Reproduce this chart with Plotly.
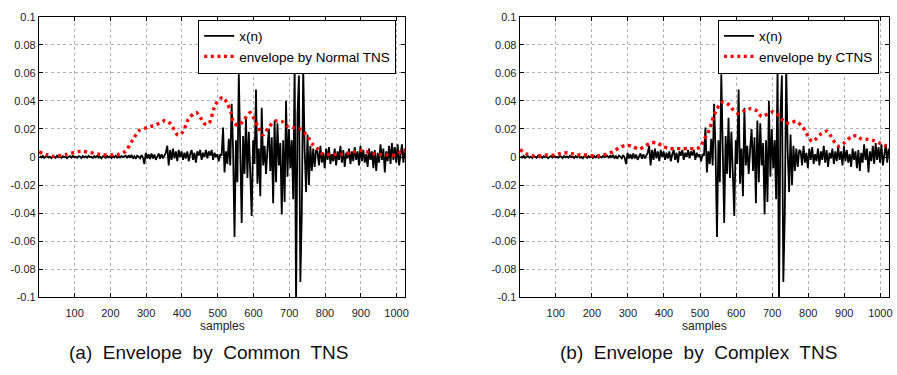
import plotly.graph_objects as go

# ---------------- data ----------------
# x(n): signal, every 4th sample, in four segments
seg_a_start = 3
sig_a = [0.0005, -0.0003, 0.0008, -0.0006, 0.0002, 0.0007, -0.0004, 0.0003, -0.0008, 0.0005,
         0.0001, -0.0005, 0.0009, -0.0002, 0.0004, -0.0007, 0.0006, -0.0001, 0.0003, -0.0009,
         0.0002, 0.0006, -0.0004, 0.0008, -0.0003, 0.0001, -0.0006, 0.0005, 0.0003, -0.0008,
         0.0007, -0.0002, 0.0004, -0.0005, 0.0009, -0.0001, 0.0002, -0.0007, 0.0006, -0.0003,
         0.0008, -0.0004, 0.0001, -0.0009, 0.0005, 0.0003, -0.0006, 0.0007, -0.0002, 0.0004,
         -0.0008, 0.0006, -0.0003, 0.0009, -0.0005, 0.0002, -0.0004, 0.0007, -0.0001, 0.0005]
seg_b_start = 243
sig_b = [0.001, -0.0008, 0.0012, -0.0005, 0.0015, -0.001, 0.0006, -0.0012, 0.001, 0.0003,
         -0.0009, 0.0014, -0.0004,
         -0.005, 0.003, -0.001, 0.002, -0.0015, 0.0025, -0.001, 0.0018, -0.002, 0.001,
         0.0025, -0.0012, 0.002, -0.001, 0.0015,
         0.003, 0.008, -0.006, 0.005, -0.002, 0.006, -0.001, 0.004, -0.003, 0.005,
         0.0, 0.004, -0.002, 0.003, -0.001, 0.004, -0.003, 0.002, 0.005, -0.002,
         0.003, -0.004, 0.004, 0.001, 0.005, -0.002, 0.003, 0.0, 0.005, -0.001,
         0.004, 0.001, 0.005, -0.002, 0.003, 0.0, 0.002, -0.003, 0.002]
seg_c_start = 511
sig_c = [0.001, 0.021, -0.011, 0.004, -0.005, 0.013, -0.006, 0.038, 0.005, -0.057,
         0.012, -0.018, 0.059, 0.008, -0.047, 0.015, -0.012, 0.028, -0.015, 0.018,
         -0.008, -0.042, 0.012, -0.005, 0.048, -0.019, 0.006, -0.028, 0.035, -0.006,
         0.008, -0.012, 0.006, 0.02, -0.01, 0.014, -0.033, 0.026, -0.018, 0.024,
         -0.006, 0.01, -0.041, 0.012, -0.032, 0.04, -0.014, 0.02, -0.008, 0.012,
         -0.03, 0.066, -0.105, 0.03, 0.058, -0.089, -0.041, 0.064, 0.005, -0.025,
         0.016, -0.02, 0.008, -0.01, 0.006, -0.007, 0.005]
seg_d_start = 779
sig_d = [0.004, -0.006, 0.008, -0.004, 0.003, -0.008, 0.006, -0.002, 0.007, -0.005,
         0.002, -0.003, 0.006, -0.006, 0.004, -0.002, 0.008, -0.004, 0.005, -0.007,
         0.003, -0.001, 0.006, -0.005, 0.004, -0.003, 0.007, -0.002, 0.004, -0.006,
         0.008, -0.003, 0.005, -0.004, 0.002, -0.007, 0.006, -0.002, 0.004, -0.008,
         0.005, -0.01, 0.003, -0.004, 0.009, -0.002, 0.006, -0.011, 0.004, -0.003,
         0.008, -0.005, 0.01, -0.002, 0.007, -0.004, 0.009, -0.006, 0.003, 0.009,
         -0.004, 0.006]

# envelope by Normal TNS (left) : sample positions and values
env_normal_n = [1, 40, 77, 114, 125, 170, 206, 225, 242, 262, 281, 304, 336, 353, 368, 389,
                403, 418, 440, 452, 463, 475, 494, 514, 526, 537, 544, 558, 572, 591, 600,
                614, 626, 642, 660, 679, 694, 711, 730, 744, 755, 765, 779, 792, 827, 846,
                882, 901, 938, 975, 998, 1012, 1024]
env_normal_v = [0.0037, 0.0005, 0.0019, 0.004, 0.004, 0.002, 0.0014, 0.002, 0.004, 0.012,
                0.019, 0.021, 0.024, 0.026, 0.0237, 0.0156, 0.018, 0.027, 0.0317, 0.028,
                0.0237, 0.0237, 0.0375, 0.0425, 0.0386, 0.0317, 0.0248, 0.0225, 0.026,
                0.0317, 0.028, 0.021, 0.0156, 0.021, 0.0255, 0.0255, 0.022, 0.021, 0.020,
                0.0168, 0.0133, 0.0092, 0.006, 0.0023, 0.0019, 0.0019, 0.0037, 0.0046,
                0.0023, 0.0014, 0.0014, 0.0037, 0.004]

# envelope by CTNS (right)
env_ctns_n = [1, 22, 40, 59, 77, 96, 114, 133, 151, 169, 188, 206, 225, 243, 261, 275, 294,
              312, 331, 349, 363, 379, 395, 413, 432, 450, 469, 487, 501, 510, 519, 526, 533,
              538, 547, 554, 565, 581, 593, 607, 625, 641, 657, 671, 687, 703, 719, 734, 749,
              766, 780, 791, 800, 811, 823, 837, 852, 864, 874, 887, 901, 920, 935, 947, 966,
              984, 998, 1012, 1024]
env_ctns_v = [0.0053, 0.0019, 0.0007, 0.001, 0.0014, 0.0014, 0.0025, 0.003, 0.002, 0.0014,
              0.0014, 0.0007, 0.001, 0.0023, 0.004, 0.0064, 0.0083, 0.0076, 0.0057, 0.008,
              0.0099, 0.0103, 0.008, 0.006, 0.006, 0.006, 0.006, 0.006, 0.007, 0.0122,
              0.0156, 0.0195, 0.0248, 0.0294, 0.034, 0.0375, 0.0393, 0.037, 0.0333, 0.031,
              0.0333, 0.0345, 0.0329, 0.0288, 0.0306, 0.0322, 0.0294, 0.0248, 0.0241, 0.0255,
              0.0225, 0.019, 0.0145, 0.011, 0.0133, 0.0168, 0.0184, 0.0145, 0.0103, 0.0076,
              0.0103, 0.0145, 0.0152, 0.0129, 0.0126, 0.0115, 0.0099, 0.0083, 0.007]

x_ticks = [100, 200, 300, 400, 500, 600, 700, 800, 900, 1000]
y_ticks = [-0.1, -0.08, -0.06, -0.04, -0.02, 0, 0.02, 0.04, 0.06, 0.08, 0.1]
y_ticktext = ["-0.1", "-0.08", "-0.06", "-0.04", "-0.02", "0", "0.02", "0.04", "0.06", "0.08", "0.1"]
captions = ["(a)  Envelope  by  Common  TNS", "(b)  Envelope  by  Complex  TNS"]
env_names = ["envelope by Normal TNS", "envelope by CTNS"]

# ---------------- build ----------------
sig_n, sig_v = [], []
for start, seg in [(seg_a_start, sig_a), (seg_b_start, sig_b), (seg_c_start, sig_c), (seg_d_start, sig_d)]:
    for k, v in enumerate(seg):
        sig_n.append(start + 4 * k)
        sig_v.append(v)

W, H = 897, 375
FONT = "Liberation Sans, Arial, sans-serif"

fig = go.Figure()

envs = [(env_normal_n, env_normal_v), (env_ctns_n, env_ctns_v)]
for i in range(2):
    xa = "x" if i == 0 else "x2"
    ya = "y" if i == 0 else "y2"
    lg = "legend" if i == 0 else "legend2"
    fig.add_trace(go.Scatter(x=sig_n, y=sig_v, mode="lines", name="x(n)",
                             line=dict(color="black", width=1.8),
                             xaxis=xa, yaxis=ya, legend=lg))
    fig.add_trace(go.Scatter(x=envs[i][0], y=envs[i][1], mode="lines", name=env_names[i],
                             line=dict(color="#ff0000", width=3.4, dash="3px,3.6px", shape="spline", smoothing=0.8),
                             xaxis=xa, yaxis=ya, legend=lg))

x_domains = [[39 / W, 407 / W], [522 / W, 893 / W]]
y_domain = [1 - 301 / H, 1 - 11 / H]

axis_common = dict(showline=True, linecolor="black", linewidth=1, mirror="ticks",
                   ticks="inside", ticklen=4, tickcolor="black",
                   showgrid=True, gridcolor="#b0b0b0", griddash="dot", gridwidth=1,
                   zeroline=False, tickfont=dict(family=FONT, size=11, color="#222"))

layout = dict(width=W, height=H, margin=dict(l=0, r=0, t=0, b=0),
              paper_bgcolor="white", plot_bgcolor="white", font=dict(family=FONT, color="#111"))
for i in range(2):
    suf = "" if i == 0 else "2"
    layout["xaxis" + suf] = dict(axis_common, domain=x_domains[i], range=[0, 1024],
                                 tickvals=x_ticks, anchor="y" + suf, ticklabelstandoff=5)
    layout["yaxis" + suf] = dict(axis_common, domain=y_domain, range=[-0.1, 0.1],
                                 tickvals=y_ticks, ticktext=y_ticktext, anchor="x" + suf)

legend_common = dict(bgcolor="white", bordercolor="black", borderwidth=1,
                     font=dict(family=FONT, size=13.5, color="black"),
                     xanchor="right", yanchor="top", itemwidth=30,
                     tracegroupgap=0)
layout["legend"] = dict(legend_common, x=398 / W, y=1 - 14 / H)
layout["legend2"] = dict(legend_common, x=883 / W, y=1 - 14 / H)

annotations = []
for i in range(2):
    cx = (x_domains[i][0] + x_domains[i][1]) / 2
    annotations.append(dict(text="samples", x=cx, y=1 - 331 / H, xref="paper", yref="paper",
                            showarrow=False, xanchor="center", yanchor="middle",
                            font=dict(family=FONT, size=12, color="#222")))
caption_x = [209 / W, 702 / W]
for i in range(2):
    annotations.append(dict(text=captions[i].replace("  ", "\u00a0 "), x=caption_x[i], y=1 - 358 / H,
                            xref="paper", yref="paper", showarrow=False,
                            xanchor="center", yanchor="middle",
                            font=dict(family=FONT, size=19, color="#111")))
layout["annotations"] = annotations

fig.update_layout(**layout)
fig.write_html("out.html")
